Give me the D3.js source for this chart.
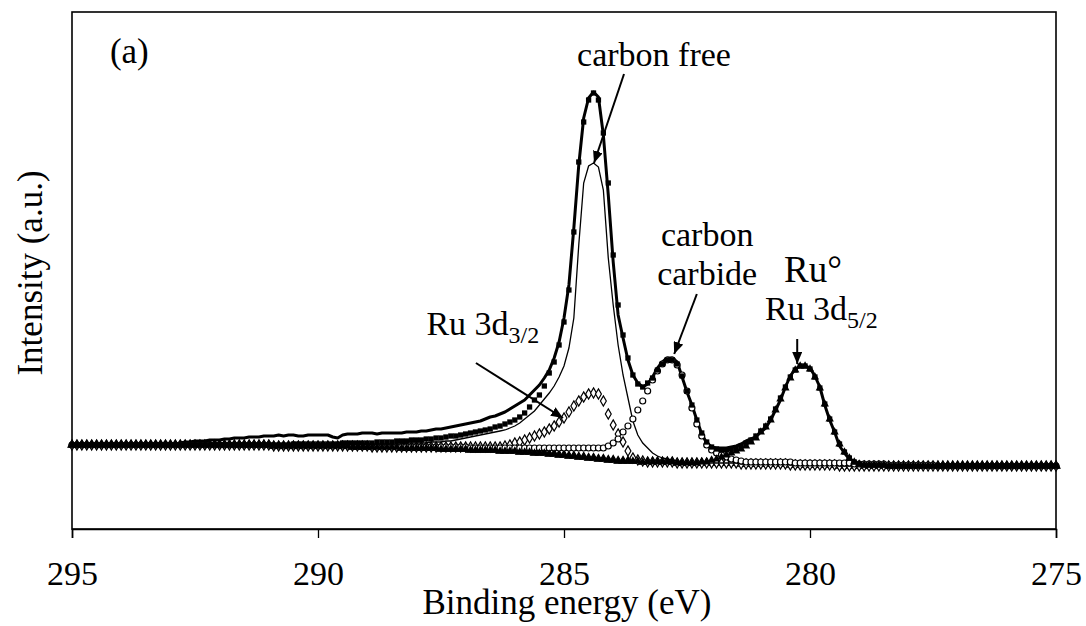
<!DOCTYPE html>
<html><head><meta charset="utf-8">
<script src="https://cdn.jsdelivr.net/npm/d3@7"></script>
<style>
html,body{margin:0;padding:0;background:#fff;}
svg{display:block;}
text{font-family:"Liberation Serif","Times New Roman",serif;fill:#000;}
</style></head><body>
<svg id="chart" width="1086" height="626"></svg>
<script>
// Binding energy sampling grid (0.1 eV step, 295 -> 275 eV)
const energy = d3.range(0, 201).map(i => +(295 - i * 0.1).toFixed(1));
const xTicks = [295, 290, 285, 280, 275];
const xTickLabels = ["295", "290", "285", "280", "275"];

// Experimental spectrum (thick line), a.u.
const expData = [
84,84,84,84,83,84,84,85,84,84,
83,84,84,85,84,84,85,84,85,86,
85,85,86,87,87,88,88,88,89,89,
89,90,90,91,91,91,92,92,92,93,
93,93,94,93,94,94,93,93,94,94,
94,94,94,92,91,94,95,95,95,96,
96,96,95,96,96,96,96,96,97,97,
97,98,98,99,100,100,101,102,103,104,
105,106,107,108,110,112,113,115,117,120,
123,126,129,134,139,144,151,159,171,187,
211,244,301,364,411,431,437,432,394,334,
267,214,191,169,154,146,142,145,152,161,
167,171,171,167,152,137,124,109,95,86,
82,81,81,81,82,83,85,88,90,92,
97,101,109,119,129,142,153,160,163,163,
161,153,142,124,109,97,83,76,70,67,
65,64,64,63,64,63,63,63,64,63,
63,63,63,64,63,63,63,63,63,64,
63,63,63,63,63,63,64,63,63,63,
63,63,63,63,63,63,63,63,63,63,
63];

// Fitted envelope (filled squares)
const fitData = [
84,84,84,84,84,84,84,84,84,84,
84,84,84,84,84,84,84,84,84,84,
84,84,84,84,84,84,84,84,84,84,
84,84,84,84,84,84,84,84,84,84,
84,84,84,84,84,85,85,85,85,85,
85,85,85,85,85,86,86,86,86,86,
86,86,87,87,87,87,88,88,88,89,
89,89,90,90,91,91,92,93,93,94,
95,96,97,98,99,100,102,103,105,107,
109,112,116,122,129,134,143,156,167,184,
207,239,297,367,407,429,436,429,396,346,
274,224,194,171,154,145,142,146,151,159,
165,169,169,165,153,138,124,109,96,87,
82,80,79,79,80,81,83,86,89,93,
98,103,110,120,131,142,152,159,163,163,
160,152,141,125,110,97,85,77,71,67,
65,64,64,64,64,64,63,63,63,63,
63,63,63,63,63,63,63,63,63,63,
63,63,63,63,63,63,63,63,63,63,
63,63,63,63,63,63,63,63,63,63,
63];

// Carbon free component (thin line)
const cFreeData = [
84,84,84,84,84,84,84,84,84,84,
84,84,84,84,84,84,84,84,84,84,
84,84,84,84,84,84,84,84,84,84,
84,84,84,84,84,84,84,84,84,84,
84,84,84,84,84,84,84,84,84,84,
84,84,84,84,84,84,84,84,84,84,
84,85,85,85,85,85,85,85,86,86,
86,86,86,87,87,87,88,88,89,90,
91,92,93,94,95,96,97,98,99,101,
103,106,110,114,118,124,130,136,143,152,
163,181,211,284,346,363,366,362,339,271,
224,184,154,131,108,94,86,81,76,73,
71,70,69,68,67,66,66,66,66,66,
66,66,66,66,66,66,65,65,65,65,
65,65,65,65,65,65,64,64,64,64,
64,64,64,64,64,64,63,63,63,63,
63,63,63,63,63,63,63,63,63,63,
63,63,63,63,63,63,63,63,63,63,
63,63,63,63,63,63,63,63,63,63,
63,63,63,63,63,63,63,63,63,63,
63];

// Ru 3d3/2 component (open diamonds)
const ru32Data = [
84,84,84,84,84,84,84,84,84,84,
84,84,84,84,84,84,84,84,84,84,
84,84,84,84,84,84,84,84,84,84,
84,84,84,84,84,84,84,84,84,84,
84,83,83,83,83,83,83,83,83,83,
83,83,83,83,83,83,83,83,83,83,
83,82,82,82,82,82,82,82,82,82,
82,82,82,82,82,82,82,82,82,82,
82,82,82,82,82,82,82,82,83,84,
86,87,89,91,93,95,97,100,103,107,
111,117,123,128,132,135,136,135,128,115,
104,95,87,78,71,69,68,67,67,67,
67,67,67,66,66,66,66,66,66,66,
66,66,66,66,66,66,65,65,65,65,
65,65,65,65,65,65,64,64,64,64,
64,64,64,64,64,64,63,63,63,63,
63,63,63,63,63,63,63,63,63,63,
63,63,63,63,63,63,63,63,63,63,
63,63,63,63,63,63,63,63,63,63,
63,63,63,63,63,63,63,63,63,63,
63];

// Carbon carbide component (open circles)
const carbideData = [
84,84,84,84,84,84,84,84,84,84,
84,84,84,84,84,84,84,84,84,84,
84,84,84,84,84,84,84,84,84,84,
84,84,84,84,84,84,84,84,84,84,
84,83,83,83,83,83,83,83,83,83,
83,83,83,83,83,83,83,83,83,83,
83,82,82,82,82,82,82,82,82,82,
82,82,82,82,82,82,82,82,82,82,
82,81,81,81,81,81,81,81,81,81,
81,81,81,81,81,81,81,81,81,81,
81,81,81,81,81,81,81,81,81,83,
86,90,97,103,110,119,128,138,149,158,
165,169,169,164,154,138,121,105,93,84,
79,76,74,72,70,69,68,67,67,67,
67,67,67,67,67,67,67,66,66,66,
66,66,66,66,66,66,66,66,66,65,
65,65,65,65,65,65,64,64,64,64,
64,64,64,64,64,64,63,63,63,63,
63,63,63,63,63,63,63,63,63,63,
63,63,63,63,63,63,63,63,63,63,
63];

// Ru 3d5/2 component (filled triangles)
const ru52Data = [
84,84,84,84,84,84,84,84,84,84,
84,84,84,84,84,84,84,84,84,84,
84,84,84,84,84,84,84,84,84,84,
84,84,84,84,84,84,84,84,84,84,
84,83,83,83,83,83,83,83,83,83,
83,83,83,83,83,83,83,82,82,82,
82,82,82,82,82,82,82,81,81,81,
81,81,81,81,81,80,80,80,80,80,
80,79,79,79,79,79,79,78,78,78,
78,77,77,77,76,76,76,75,75,74,
74,73,73,72,72,71,71,70,70,69,
69,68,68,68,68,68,67,67,67,67,
67,67,67,66,66,66,66,66,67,67,
69,70,72,74,76,78,80,83,87,91,
97,102,109,119,130,141,151,159,163,163,
160,152,141,125,110,97,85,77,71,67,
65,64,64,64,64,64,63,63,63,63,
63,63,63,63,63,63,63,63,63,63,
63,63,63,63,63,63,63,63,63,63,
63,63,63,63,63,63,63,63,63,63,
63];

// Background (open triangles)
const bgData = [
84,84,84,84,84,84,84,84,84,84,
84,84,84,84,84,84,84,84,84,84,
84,84,84,84,84,84,84,84,84,84,
84,84,84,84,84,84,84,84,84,84,
84,83,83,83,83,83,83,83,83,83,
83,83,83,83,83,83,83,82,82,82,
82,82,82,82,82,82,82,81,81,81,
81,81,81,81,81,80,80,80,80,80,
80,79,79,79,79,79,79,78,78,78,
78,77,77,77,76,76,76,75,75,74,
74,73,73,72,72,71,71,70,70,69,
69,68,68,68,68,68,67,67,67,67,
67,67,67,66,66,66,66,66,66,66,
66,66,66,66,66,66,65,65,65,65,
65,65,65,65,65,65,64,64,64,64,
64,64,64,64,64,64,63,63,63,63,
63,63,63,63,63,63,63,63,63,63,
63,63,63,63,63,63,63,63,63,63,
63,63,63,63,63,63,63,63,63,63,
63,63,63,63,63,63,63,63,63,63,
63];

const svg = d3.select("#chart");
const plot = {left: 72, right: 1056, top: 12, bottom: 529};
const x = d3.scaleLinear().domain([295, 275]).range([plot.left, plot.right]);
const y = d3.scaleLinear().domain([0, 517]).range([plot.bottom, plot.top]);

const pts = arr => arr.map((v, i) => ({e: energy[i], v: v}));

// defs: arrow head
svg.append("defs").append("marker")
  .attr("id", "arrow").attr("viewBox", "0 0 12 10")
  .attr("refX", 12).attr("refY", 5)
  .attr("markerWidth", 12).attr("markerHeight", 10)
  .attr("markerUnits", "userSpaceOnUse")
  .attr("orient", "auto")
  .append("path").attr("d", "M0,0 L12,5 L0,10 Z").attr("fill", "#000");

// frame
svg.append("rect")
  .attr("x", plot.left).attr("y", plot.top)
  .attr("width", plot.right - plot.left).attr("height", plot.bottom - plot.top)
  .attr("fill", "none").attr("stroke", "#000").attr("stroke-width", 1.6);

// x axis
const xAxis = d3.axisBottom(x).tickValues(xTicks)
  .tickFormat((d, i) => xTickLabels[i]).tickSize(9).tickPadding(23);
const gx = svg.append("g").attr("transform", `translate(0,${plot.bottom})`).call(xAxis);
gx.attr("font-family", null);
gx.select(".domain").attr("stroke", "#000").attr("stroke-width", 1.6);
gx.selectAll(".tick line").attr("stroke", "#000").attr("stroke-width", 1.3);
gx.selectAll(".tick text")
  .style("font-family", '"Liberation Serif", "Times New Roman", serif')
  .attr("font-size", 34).attr("fill", "#000");

// axis titles
svg.append("text").attr("x", 567).attr("y", 614).attr("text-anchor", "middle")
  .attr("font-size", 35).text("Binding energy (eV)");
svg.append("text").attr("transform", "translate(42,273) rotate(-90)")
  .attr("text-anchor", "middle").attr("font-size", 35).text("Intensity (a.u.)");

const line = d3.line().x(d => x(d.e)).y(d => y(d.v));
const g = svg.append("g");

// background (open triangles)
g.selectAll(".bg").data(pts(bgData)).join("path").attr("class", "bg")
  .attr("transform", d => `translate(${x(d.e)},${y(d.v)})`)
  .attr("d", d3.symbol().type(d3.symbolTriangle).size(28))
  .attr("fill", "#fff").attr("stroke", "#000").attr("stroke-width", 1.1);

// Ru 3d3/2 (open diamonds)
g.selectAll(".ru32").data(pts(ru32Data)).join("path").attr("class", "ru32")
  .attr("transform", d => `translate(${x(d.e)},${y(d.v)})`)
  .attr("d", d3.symbol().type(d3.symbolDiamond).size(30))
  .attr("fill", "#fff").attr("stroke", "#000").attr("stroke-width", 1.2);

// carbon free (thin line)
g.append("path").datum(pts(cFreeData)).attr("d", line)
  .attr("fill", "none").attr("stroke", "#000").attr("stroke-width", 1.3);

// experimental (thick line)
g.append("path").datum(pts(expData)).attr("d", line)
  .attr("fill", "none").attr("stroke", "#000").attr("stroke-width", 3)
  .attr("stroke-linejoin", "round");

// carbide (open circles)
g.selectAll(".carb").data(pts(carbideData)).join("circle").attr("class", "carb")
  .attr("cx", d => x(d.e)).attr("cy", d => y(d.v)).attr("r", 3)
  .attr("fill", "#fff").attr("stroke", "#000").attr("stroke-width", 1.2);

// Ru 3d5/2 (filled triangles)
g.selectAll(".ru52").data(pts(ru52Data)).join("path").attr("class", "ru52")
  .attr("transform", d => `translate(${x(d.e)},${y(d.v)})`)
  .attr("d", d3.symbol().type(d3.symbolTriangle).size(30))
  .attr("fill", "#000");

// fit envelope (filled squares)
g.selectAll(".fit").data(pts(fitData)).join("path").attr("class", "fit")
  .attr("transform", d => `translate(${x(d.e)},${y(d.v)})`)
  .attr("d", d3.symbol().type(d3.symbolSquare).size(28))
  .attr("fill", "#000");

// annotations
const ann = svg.append("g");
ann.append("text").attr("x", x(294.23)).attr("y", y(466)).attr("font-size", 35).text("(a)");
ann.append("text").attr("x", x(283.17)).attr("y", y(463)).attr("text-anchor", "middle")
  .attr("font-size", 34).text("carbon free");
ann.append("text").attr("x", x(282.09)).attr("y", y(283)).attr("text-anchor", "middle")
  .attr("font-size", 34).text("carbon");
ann.append("text").attr("x", x(282.09)).attr("y", y(244)).attr("text-anchor", "middle")
  .attr("font-size", 34).text("carbide");
ann.append("text").attr("x", x(279.94)).attr("y", y(247)).attr("text-anchor", "middle")
  .attr("font-size", 37).text("Ru°");
const t52 = ann.append("text").attr("x", x(279.77)).attr("y", y(209)).attr("text-anchor", "middle")
  .attr("font-size", 34);
t52.append("tspan").text("Ru 3d");
t52.append("tspan").attr("font-size", 24).attr("dy", 8).text("5/2");
const t32 = ann.append("text").attr("x", x(286.65)).attr("y", y(194)).attr("text-anchor", "middle")
  .attr("font-size", 34);
t32.append("tspan").text("Ru 3d");
t32.append("tspan").attr("font-size", 24).attr("dy", 8).text("3/2");

const arrows = [
  [283.78, 455, 284.39, 366],
  [282.30, 235, 282.76, 175],
  [280.26, 190, 280.26, 165],
  [286.79, 166, 285.02, 111]
];
ann.selectAll(".arr").data(arrows).join("line").attr("class", "arr")
  .attr("x1", d => x(d[0])).attr("y1", d => y(d[1]))
  .attr("x2", d => x(d[2])).attr("y2", d => y(d[3]))
  .attr("stroke", "#000").attr("stroke-width", 2)
  .attr("marker-end", "url(#arrow)");
</script>
</body></html>
